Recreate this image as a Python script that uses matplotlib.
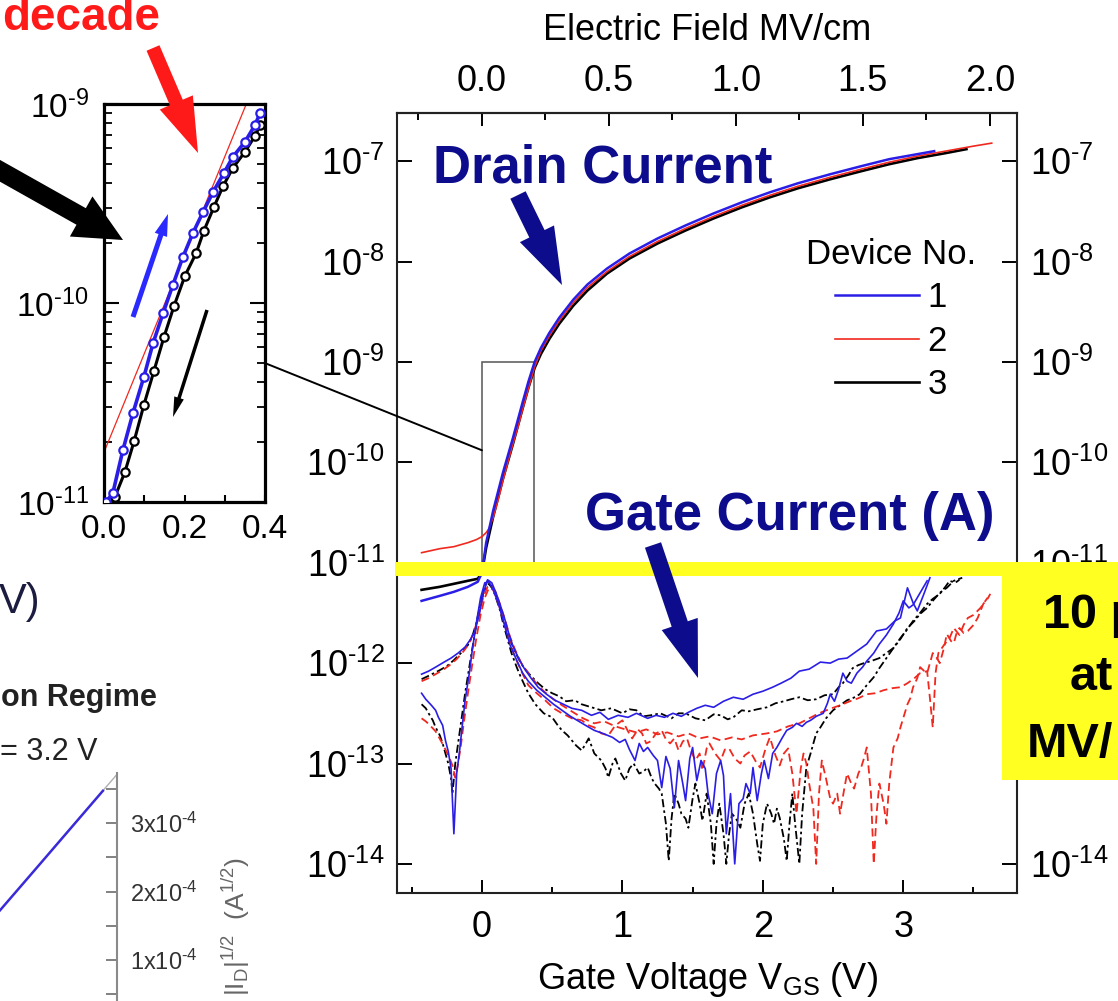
import numpy as np
import matplotlib
matplotlib.use('Agg')
import matplotlib.pyplot as plt
from matplotlib.patches import Rectangle, FancyArrow, ConnectionPatch
from matplotlib.transforms import IdentityTransform
from matplotlib.ticker import (FixedLocator, NullLocator, NullFormatter, LogLocator,
                               FormatStrFormatter, FuncFormatter)

plt.rcParams['font.family'] = ['Liberation Sans', 'DejaVu Sans']
plt.rcParams['mathtext.fontset'] = 'custom'
plt.rcParams['mathtext.rm'] = 'Liberation Sans'
plt.rcParams['mathtext.it'] = 'Liberation Sans:italic'
plt.rcParams['mathtext.bf'] = 'Liberation Sans:bold'
plt.rcParams['axes.unicode_minus'] = False

# ---- data: (V_GS, log10 I) pairs ----
blue_drain = [(-0.43, -11.38), (-0.30, -11.33), (-0.20, -11.29), (-0.10, -11.24), (-0.03, -11.19),
              (0.00, -11.10), (0.03, -10.80), (0.08, -10.48), (0.15, -10.10), (0.22, -9.76),
              (0.29, -9.40), (0.33, -9.20), (0.375, -9.00), (0.42, -8.86), (0.48, -8.71),
              (0.55, -8.56), (0.65, -8.38), (0.75, -8.23), (0.89, -8.07), (1.05, -7.92),
              (1.25, -7.77), (1.45, -7.64), (1.65, -7.52), (1.85, -7.41), (2.05, -7.31),
              (2.25, -7.22), (2.48, -7.13), (2.70, -7.05), (2.90, -6.98), (3.10, -6.93), (3.22, -6.90)]
red_drain = [(-0.43, -10.90), (-0.30, -10.86), (-0.20, -10.84), (-0.10, -10.80), (-0.04, -10.77),
             (0.00, -10.74), (0.03, -10.70), (0.05, -10.66), (0.08, -10.55), (0.12, -10.35),
             (0.15, -10.18), (0.19, -9.97), (0.22, -9.82), (0.26, -9.63), (0.29, -9.47),
             (0.33, -9.27), (0.375, -9.05), (0.42, -8.89), (0.48, -8.74), (0.55, -8.59),
             (0.65, -8.41), (0.75, -8.26), (0.89, -8.10), (1.05, -7.95), (1.25, -7.80),
             (1.45, -7.67), (1.65, -7.55), (1.85, -7.44), (2.05, -7.34), (2.25, -7.25),
             (2.48, -7.16), (2.70, -7.08), (2.90, -7.01), (3.10, -6.95), (3.30, -6.90),
             (3.50, -6.85), (3.63, -6.82)]
black_drain = [(-0.43, -11.27), (-0.30, -11.24), (-0.20, -11.21), (-0.10, -11.18), (-0.03, -11.16),
               (0.00, -11.10), (0.03, -10.85), (0.08, -10.54), (0.15, -10.16), (0.22, -9.82),
               (0.29, -9.46), (0.33, -9.26), (0.375, -9.06), (0.42, -8.92), (0.48, -8.77),
               (0.55, -8.62), (0.65, -8.44), (0.75, -8.29), (0.89, -8.12), (1.05, -7.97),
               (1.25, -7.82), (1.45, -7.69), (1.65, -7.57), (1.85, -7.46), (2.05, -7.36),
               (2.25, -7.27), (2.48, -7.18), (2.70, -7.10), (2.90, -7.03), (3.10, -6.97),
               (3.30, -6.92), (3.45, -6.88)]

blue_gate_hi = [(-0.43, -12.11), (-0.38, -12.08), (-0.33, -12.04), (-0.27, -11.99), (-0.22, -11.95),
                (-0.17, -11.90), (-0.12, -11.84), (-0.08, -11.76), (-0.05, -11.68), (-0.02, -11.52),
                (0.01, -11.30), (0.04, -11.17), (0.07, -11.20), (0.10, -11.30), (0.13, -11.42),
                (0.16, -11.55), (0.19, -11.70), (0.22, -11.83), (0.26, -11.95), (0.30, -12.05),
                (0.35, -12.15), (0.40, -12.24), (0.46, -12.31), (0.52, -12.37), (0.58, -12.41),
                (0.64, -12.45), (0.71, -12.47), (0.78, -12.52), (0.84, -12.49), (0.90, -12.56),
                (0.97, -12.52), (1.04, -12.54), (1.10, -12.50), (1.18, -12.55), (1.24, -12.52),
                (1.30, -12.54), (1.36, -12.50), (1.42, -12.53), (1.47, -12.49), (1.53, -12.45),
                (1.59, -12.42), (1.65, -12.44), (1.72, -12.38), (1.79, -12.34), (1.86, -12.36),
                (1.93, -12.31), (2.00, -12.28), (2.07, -12.24), (2.13, -12.20), (2.20, -12.15),
                (2.26, -12.08), (2.33, -12.06), (2.41, -11.99), (2.48, -12.00), (2.54, -11.96),
                (2.60, -11.95), (2.67, -11.88), (2.74, -11.81), (2.81, -11.68), (2.88, -11.66),
                (2.94, -11.58), (2.98, -11.55), (3.03, -11.25), (3.07, -11.40), (3.10, -11.48),
                (3.15, -11.30), (3.19, -11.15)]
blue_gate_lo = [(-0.43, -12.30), (-0.40, -12.36), (-0.36, -12.42), (-0.33, -12.47), (-0.31, -12.54),
                (-0.28, -12.62), (-0.26, -12.77), (-0.24, -12.88), (-0.22, -13.05), (-0.20, -13.70),
                (-0.18, -13.10), (-0.16, -12.88), (-0.14, -12.62), (-0.12, -12.37), (-0.09, -12.10),
                (-0.07, -11.88), (-0.04, -11.60), (-0.01, -11.35), (0.02, -11.20), (0.05, -11.19),
                (0.08, -11.27), (0.12, -11.42), (0.16, -11.62), (0.20, -11.82), (0.25, -11.98),
                (0.29, -12.10), (0.33, -12.18), (0.39, -12.27), (0.45, -12.34), (0.51, -12.41),
                (0.57, -12.47), (0.63, -12.53), (0.69, -12.58), (0.75, -12.63), (0.80, -12.67),
                (0.86, -12.70), (0.93, -12.74), (0.98, -12.79), (1.02, -12.76), (1.05, -12.86),
                (1.09, -12.97), (1.12, -12.80), (1.15, -12.88), (1.18, -12.84), (1.22, -12.92),
                (1.25, -12.97), (1.28, -13.24), (1.31, -12.93), (1.34, -13.05), (1.37, -13.44),
                (1.40, -12.97), (1.43, -13.20), (1.45, -13.37), (1.48, -12.95), (1.50, -12.84),
                (1.53, -13.17), (1.56, -12.97), (1.59, -13.05), (1.61, -13.30), (1.64, -13.50),
                (1.67, -13.10), (1.70, -12.97), (1.72, -13.12), (1.74, -13.70), (1.77, -13.30),
                (1.80, -14.00), (1.83, -13.40), (1.86, -13.35), (1.88, -13.20), (1.91, -13.30),
                (1.93, -13.04), (1.96, -13.37), (1.99, -13.10), (2.01, -12.97), (2.04, -13.15),
                (2.07, -12.90), (2.10, -12.84), (2.14, -12.74), (2.17, -12.67), (2.21, -12.64),
                (2.24, -12.60), (2.28, -12.63), (2.31, -12.59), (2.34, -12.57), (2.38, -12.53),
                (2.43, -12.50), (2.46, -12.40), (2.48, -12.31), (2.51, -12.38), (2.54, -12.26),
                (2.57, -12.10), (2.60, -12.18), (2.63, -12.20), (2.67, -12.10), (2.71, -12.04),
                (2.74, -11.98), (2.79, -11.90), (2.83, -11.81), (2.88, -11.72), (2.93, -11.61),
                (2.97, -11.50), (3.00, -11.38), (3.04, -11.45), (3.07, -11.42), (3.12, -11.30),
                (3.17, -11.18)]
red_gate_hi = [(-0.43, -12.18), (-0.38, -12.15), (-0.33, -12.11), (-0.28, -12.07), (-0.23, -12.02),
               (-0.18, -11.96), (-0.13, -11.88), (-0.09, -11.80), (-0.05, -11.66), (-0.02, -11.50),
               (0.01, -11.34), (0.04, -11.24), (0.07, -11.23), (0.10, -11.30), (0.13, -11.42),
               (0.16, -11.55), (0.20, -11.74), (0.24, -11.88), (0.28, -12.00), (0.33, -12.10),
               (0.38, -12.19), (0.44, -12.28), (0.50, -12.35), (0.57, -12.42), (0.65, -12.49),
               (0.72, -12.55), (0.80, -12.60), (0.87, -12.58), (0.95, -12.63), (1.02, -12.66),
               (1.10, -12.69), (1.17, -12.66), (1.25, -12.71), (1.32, -12.69), (1.40, -12.73),
               (1.47, -12.70), (1.55, -12.75), (1.62, -12.73), (1.70, -12.77), (1.78, -12.74),
               (1.85, -12.76), (1.93, -12.72), (2.03, -12.70), (2.10, -12.68), (2.18, -12.63),
               (2.26, -12.60), (2.33, -12.55), (2.40, -12.50), (2.47, -12.46), (2.55, -12.42),
               (2.62, -12.38), (2.68, -12.35), (2.74, -12.31), (2.80, -12.30), (2.86, -12.27),
               (2.92, -12.25), (2.98, -12.24), (3.03, -12.20), (3.08, -12.15), (3.12, -12.10),
               (3.17, -12.08), (3.19, -12.35), (3.21, -12.64), (3.23, -12.10), (3.25, -11.90),
               (3.29, -11.82), (3.33, -11.75), (3.36, -11.65), (3.40, -11.72), (3.43, -11.62),
               (3.46, -11.55), (3.50, -11.52), (3.55, -11.45), (3.60, -11.35)]
red_gate_lo = [(-0.43, -12.55), (-0.40, -12.58), (-0.37, -12.62), (-0.33, -12.68), (-0.29, -12.78),
               (-0.26, -12.86), (-0.23, -12.95), (-0.21, -13.02), (-0.19, -13.14), (-0.17, -13.00),
               (-0.15, -12.82), (-0.13, -12.60), (-0.10, -12.30), (-0.07, -12.02), (-0.04, -11.75),
               (-0.01, -11.52), (0.02, -11.35), (0.05, -11.25), (0.08, -11.27), (0.11, -11.38),
               (0.15, -11.55), (0.19, -11.75), (0.23, -11.92), (0.28, -12.08), (0.33, -12.22),
               (0.39, -12.30), (0.45, -12.37), (0.51, -12.45), (0.57, -12.50), (0.64, -12.55),
               (0.71, -12.57), (0.76, -12.62), (0.80, -12.64), (0.85, -12.70), (0.90, -12.72),
               (0.95, -12.62), (1.00, -12.57), (1.04, -12.68), (1.07, -12.75), (1.11, -12.66),
               (1.14, -12.70), (1.17, -12.80), (1.20, -12.78), (1.24, -12.70), (1.28, -12.67),
               (1.31, -12.76), (1.34, -12.80), (1.37, -12.75), (1.40, -12.87), (1.43, -12.78),
               (1.46, -12.75), (1.49, -12.88), (1.52, -12.97), (1.55, -12.90), (1.57, -13.07),
               (1.60, -12.85), (1.62, -12.80), (1.66, -12.90), (1.70, -12.97), (1.73, -12.86),
               (1.76, -12.85), (1.80, -12.95), (1.84, -13.00), (1.87, -12.92), (1.91, -12.88),
               (1.95, -12.98), (1.98, -13.04), (2.02, -12.85), (2.05, -12.74), (2.09, -12.92),
               (2.12, -13.02), (2.15, -12.90), (2.18, -12.85), (2.21, -13.10), (2.24, -13.50),
               (2.27, -13.05), (2.29, -12.90), (2.31, -13.00), (2.33, -13.20), (2.36, -13.45),
               (2.38, -14.00), (2.40, -13.30), (2.42, -12.97), (2.45, -13.15), (2.48, -13.35),
               (2.50, -13.40), (2.53, -13.30), (2.55, -13.50), (2.58, -13.25), (2.60, -13.10),
               (2.63, -13.20), (2.65, -13.25), (2.68, -13.10), (2.70, -13.04), (2.72, -12.95),
               (2.74, -12.84), (2.77, -13.30), (2.79, -14.00), (2.81, -13.50), (2.83, -13.20),
               (2.86, -13.40), (2.88, -13.60), (2.90, -13.20), (2.93, -12.84), (2.96, -12.75),
               (2.98, -12.64), (3.01, -12.50), (3.03, -12.41), (3.05, -12.35), (3.07, -12.24),
               (3.10, -12.15), (3.12, -12.04), (3.15, -12.08), (3.17, -12.10), (3.19, -12.00),
               (3.21, -11.90), (3.24, -11.95), (3.26, -12.00), (3.29, -11.85), (3.31, -11.71),
               (3.34, -11.78), (3.36, -11.80), (3.38, -11.70), (3.40, -11.65), (3.43, -11.70),
               (3.46, -11.68), (3.50, -11.62), (3.53, -11.55), (3.57, -11.41), (3.60, -11.36),
               (3.62, -11.31)]
black_gate_hi = [(-0.43, -12.16), (-0.37, -12.12), (-0.30, -12.07), (-0.25, -12.03), (-0.20, -11.97),
                 (-0.15, -11.90), (-0.10, -11.82), (-0.07, -11.74), (-0.04, -11.60), (-0.02, -11.47),
                 (0.00, -11.35), (0.02, -11.24), (0.04, -11.18), (0.06, -11.20), (0.08, -11.25),
                 (0.11, -11.36), (0.13, -11.45), (0.16, -11.58), (0.18, -11.70), (0.21, -11.80),
                 (0.24, -11.90), (0.27, -11.98), (0.30, -12.05), (0.35, -12.13), (0.40, -12.20),
                 (0.45, -12.26), (0.50, -12.30), (0.55, -12.33), (0.60, -12.38), (0.66, -12.37),
                 (0.71, -12.41), (0.78, -12.44), (0.85, -12.47), (0.92, -12.45), (1.00, -12.50),
                 (1.05, -12.46), (1.10, -12.47), (1.15, -12.53), (1.20, -12.52), (1.27, -12.50),
                 (1.35, -12.55), (1.40, -12.50), (1.45, -12.50), (1.52, -12.55), (1.59, -12.57),
                 (1.65, -12.51), (1.70, -12.52), (1.75, -12.56), (1.79, -12.54), (1.85, -12.47),
                 (1.90, -12.48), (1.96, -12.46), (2.03, -12.44), (2.09, -12.40), (2.15, -12.38),
                 (2.20, -12.36), (2.26, -12.34), (2.32, -12.37), (2.38, -12.36), (2.44, -12.32),
                 (2.50, -12.31), (2.54, -12.24), (2.57, -12.20), (2.61, -12.12), (2.64, -12.05),
                 (2.68, -12.02), (2.72, -12.00), (2.77, -11.98), (2.83, -11.95), (2.88, -11.90),
                 (2.93, -11.85), (2.98, -11.76), (3.03, -11.65), (3.08, -11.58), (3.12, -11.51),
                 (3.17, -11.45), (3.21, -11.38), (3.26, -11.30), (3.31, -11.25), (3.36, -11.18),
                 (3.42, -11.15)]
black_gate_lo = [(-0.43, -12.41), (-0.40, -12.45), (-0.38, -12.50), (-0.35, -12.57), (-0.33, -12.64),
                 (-0.30, -12.72), (-0.28, -12.80), (-0.26, -12.90), (-0.24, -13.00), (-0.22, -13.15),
                 (-0.21, -13.30), (-0.19, -13.00), (-0.16, -12.70), (-0.12, -12.30), (-0.08, -11.95),
                 (-0.05, -11.70), (-0.03, -11.55), (0.01, -11.30), (0.05, -11.21), (0.08, -11.27),
                 (0.10, -11.35), (0.13, -11.48), (0.15, -11.60), (0.18, -11.75), (0.21, -11.90),
                 (0.25, -12.05), (0.28, -12.15), (0.33, -12.30), (0.38, -12.41), (0.44, -12.50),
                 (0.50, -12.54), (0.54, -12.62), (0.57, -12.67), (0.61, -12.72), (0.64, -12.77),
                 (0.67, -12.82), (0.71, -12.87), (0.74, -12.80), (0.76, -12.75), (0.80, -12.90),
                 (0.85, -12.97), (0.88, -13.05), (0.90, -13.14), (0.93, -13.00), (0.95, -12.95),
                 (0.99, -13.10), (1.02, -13.17), (1.05, -13.05), (1.08, -13.00), (1.12, -13.10),
                 (1.15, -13.08), (1.18, -13.04), (1.21, -13.15), (1.23, -13.20), (1.26, -13.25),
                 (1.28, -13.30), (1.31, -13.60), (1.33, -13.97), (1.35, -13.55), (1.37, -13.30),
                 (1.40, -13.40), (1.42, -13.50), (1.45, -13.55), (1.47, -13.64), (1.50, -13.35),
                 (1.52, -13.20), (1.55, -13.40), (1.57, -13.57), (1.60, -13.30), (1.63, -13.60),
                 (1.65, -14.00), (1.67, -13.60), (1.69, -13.40), (1.72, -13.70), (1.74, -14.00),
                 (1.76, -13.70), (1.78, -13.50), (1.81, -13.55), (1.84, -13.64), (1.87, -13.40),
                 (1.90, -13.30), (1.93, -13.50), (1.96, -13.80), (1.98, -13.97), (2.00, -13.60),
                 (2.03, -13.40), (2.06, -13.50), (2.08, -13.60), (2.10, -13.45), (2.12, -13.54),
                 (2.15, -13.75), (2.17, -13.97), (2.19, -13.60), (2.21, -13.30), (2.23, -13.60),
                 (2.26, -14.00), (2.28, -13.50), (2.31, -13.04), (2.34, -12.90), (2.36, -12.80),
                 (2.38, -12.70), (2.41, -12.64), (2.45, -12.55), (2.50, -12.47), (2.55, -12.42),
                 (2.60, -12.37), (2.64, -12.35), (2.69, -12.31), (2.74, -12.22), (2.79, -12.14),
                 (2.83, -12.05), (2.88, -11.95), (2.93, -11.85), (2.98, -11.75), (3.02, -11.68),
                 (3.07, -11.58), (3.12, -11.50), (3.17, -11.41), (3.21, -11.36), (3.26, -11.31),
                 (3.30, -11.24), (3.33, -11.18), (3.37, -11.20), (3.40, -11.17)]

# zoomed subthreshold sweep (up / down) and slope fit
inset_up = [(0.005, -11.00), (0.022, -10.955), (0.047, -10.739), (0.072, -10.553), (0.099, -10.372),
            (0.122, -10.201), (0.147, -10.050), (0.171, -9.910), (0.196, -9.769), (0.221, -9.648),
            (0.246, -9.543), (0.271, -9.442), (0.298, -9.347), (0.320, -9.266), (0.350, -9.191),
            (0.375, -9.106), (0.388, -9.045)]
inset_down = [(0.010, -11.02), (0.027, -10.975), (0.052, -10.849), (0.075, -10.693), (0.099, -10.513),
              (0.124, -10.342), (0.149, -10.171), (0.174, -10.015), (0.201, -9.864), (0.229, -9.749),
              (0.248, -9.638), (0.273, -9.518), (0.296, -9.412), (0.320, -9.322), (0.350, -9.241),
              (0.375, -9.161), (0.388, -9.106)]
inset_fit = [(0.0, -10.75), (0.40, -8.77)]

# saturation-regime sqrt(I_D) panel
sat_vgs = [2.4, 2.8, 3.21]
sat_sqrt_id = [1.32e-4, 2.38e-4, 3.47e-4]
sat_fit_vgs = [2.9, 3.3]
sat_fit_sqrt_id = [2.65e-4, 3.71e-4]
sat_ticks = [1e-4, 2e-4, 3e-4]
sat_tick_labels = ['1x10$^{\\text{-}4}$', '2x10$^{\\text{-}4}$', '3x10$^{\\text{-}4}$']

device_labels = ['1', '2', '3']
field_ticks = [0.0, 0.5, 1.0, 1.5, 2.0]
field_per_volt = 0.553   # MV/cm per volt of gate bias

W, H = 1118, 1001
blue = '#2a1ee6'
red = '#f0281e'
navy = '#0c0c8c'
yellow = '#ffff22'


def fx(px):
    return px / W


def fy(py):
    return 1 - py / H


def box(left, top, right, bottom):
    return [fx(left), fy(bottom), (right - left) / W, (bottom - top) / H]


def curve(pairs):
    arr = np.array(pairs, dtype=float)
    return arr[:, 0], 10.0 ** arr[:, 1]


def decade_label(y, pos):
    n = int(round(np.log10(y)))
    return '10$^{\\text{-}%d}$' % (-n)


fig = plt.figure(figsize=(W / 100, H / 100), dpi=100)

# ---------------- main panel ----------------
ax = fig.add_axes(box(397, 113, 1017, 893))
ax.set_yscale('log')
ax.set_xlim(-0.605, 3.81)
ax.set_ylim(10 ** -14.29, 10 ** -6.52)

for pairs in [black_gate_lo, black_gate_hi]:
    v, i = curve(pairs)
    ax.plot(v, i, color='black', lw=1.3, dashes=(4.5, 1.8, 1.4, 1.8), zorder=2)
for pairs in [red_gate_lo, red_gate_hi]:
    v, i = curve(pairs)
    ax.plot(v, i, color=red, lw=1.3, dashes=(4.5, 2.5), zorder=2.2)
for pairs in [blue_gate_lo, blue_gate_hi]:
    v, i = curve(pairs)
    ax.plot(v, i, color=blue, lw=1.2, zorder=2.4)

v, i = curve(black_drain)
l3, = ax.plot(v, i, color='black', lw=1.9, zorder=3)
v, i = curve(red_drain)
l2, = ax.plot(v, i, color=red, lw=1.2, zorder=3.1)
v, i = curve(blue_drain)
l1, = ax.plot(v, i, color=blue, lw=1.8, zorder=3.2)

ax.add_patch(Rectangle((0.0, 1e-11), 0.37, 1e-9 - 1e-11, fill=False, ec='#555555', lw=1.1, zorder=1.5))

ax.yaxis.set_major_locator(FixedLocator(10.0 ** np.arange(-14, -6)))
ax.yaxis.set_minor_locator(NullLocator())
ax.yaxis.set_major_formatter(FuncFormatter(decade_label))
ax.xaxis.set_major_locator(FixedLocator([0, 1, 2, 3]))
ax.xaxis.set_minor_locator(FixedLocator([-0.5, 0.5, 1.5, 2.5, 3.5]))
ax.tick_params(axis='y', which='major', direction='in', left=True, right=True, labelright=True,
               length=11, width=1.4, pad=9, labelsize=26)
ax.tick_params(axis='x', which='major', direction='in', top=False, length=9.5, width=1.4, pad=12, labelsize=26)
ax.tick_params(axis='x', which='minor', direction='in', top=False, length=4.5, width=1.4)
for s in ax.spines.values():
    s.set_linewidth(1.5)
    s.set_color('#222222')
ax.set_xlabel('Gate Voltage V$_{\\mathrm{GS}}$ (V)', fontsize=26, labelpad=11)

sec = ax.secondary_xaxis('top', functions=(lambda x: x * field_per_volt, lambda e: e / field_per_volt))
sec.xaxis.set_major_locator(FixedLocator(field_ticks))
sec.xaxis.set_minor_locator(FixedLocator([-0.25, 0.25, 0.75, 1.25, 1.75]))
sec.xaxis.set_major_formatter(FormatStrFormatter('%.1f'))
sec.tick_params(which='major', direction='in', length=9.5, width=1.4, pad=10, labelsize=26)
sec.tick_params(which='minor', direction='in', length=5, width=1.4)
sec.spines['top'].set_linewidth(1.5)
sec.set_xlabel('Electric Field MV/cm', fontsize=26, labelpad=17)

leg = ax.legend(handles=[l1, l2, l3], labels=device_labels, title='Device No.', loc='upper right',
                bbox_to_anchor=(fx(976), fy(238)), bbox_transform=fig.transFigure, frameon=False,
                fontsize=25, title_fontsize=25, handlelength=2.4, handletextpad=0.25,
                labelspacing=0.3, borderpad=0, borderaxespad=0)

# ---------------- subthreshold zoom ----------------
axi = fig.add_axes(box(104, 104, 265, 502))
axi.set_yscale('log')
axi.set_xlim(0, 0.4)
axi.set_ylim(1e-11, 1e-9)
v, i = curve(inset_fit)
axi.plot(v, i, color=red, lw=0.9, zorder=2)
v, i = curve(inset_down)
axi.plot(v, i, color='black', lw=2.2, marker='o', ms=6, mfc='white', mec='black', mew=1.6, zorder=3)
v, i = curve(inset_up)
axi.plot(v, i, color=blue, lw=2.6, marker='o', ms=6, mfc='white', mec=blue, mew=1.6, zorder=4)
axi.xaxis.set_major_locator(FixedLocator([0.0, 0.2, 0.4]))
axi.xaxis.set_minor_locator(FixedLocator([0.1, 0.3]))
axi.xaxis.set_major_formatter(FormatStrFormatter('%.1f'))
axi.yaxis.set_major_locator(FixedLocator([1e-11, 1e-10, 1e-9]))
axi.yaxis.set_major_formatter(FuncFormatter(decade_label))
axi.yaxis.set_minor_locator(LogLocator(base=10, subs=np.arange(2, 10)))
axi.yaxis.set_minor_formatter(NullFormatter())
axi.tick_params(axis='x', which='both', direction='in', top=False, length=5, width=1.5, pad=9, labelsize=24)
axi.tick_params(axis='y', which='major', direction='in', left=True, right=True, length=11, width=1.5,
                pad=11, labelsize=24)
axi.tick_params(axis='y', which='minor', direction='in', left=True, right=True, length=6, width=1.3)
for s in axi.spines.values():
    s.set_linewidth(2.3)

con = ConnectionPatch(xyA=(1.0, 0.349), coordsA=axi.transAxes, xyB=(0.0, 10 ** -9.88),
                      coordsB=ax.transData, color='black', lw=1.4, zorder=6)
fig.add_artist(con)

# ---------------- saturation panel (cut at the figure edge) ----------------
axs = fig.add_axes(box(-400, 773, 117, 1080))
axs.patch.set_alpha(0)
axs.set_xlim(0, 3.3)
axs.set_ylim(-0.75e-4, 3.73e-4)
axs.plot(sat_fit_vgs, sat_fit_sqrt_id, color='#b0b0b0', lw=1.0, zorder=2)
axs.plot(sat_vgs, sat_sqrt_id, color='#3a2bd8', lw=1.8, zorder=3)
for side in ['left', 'top', 'bottom']:
    axs.spines[side].set_visible(False)
axs.spines['right'].set_color('#8a8a8a')
axs.spines['right'].set_linewidth(1.5)
axs.set_xticks([])
axs.yaxis.tick_right()
axs.set_yticks(sat_ticks, labels=sat_tick_labels)
axs.yaxis.set_minor_locator(FixedLocator([0.5e-4, 1.5e-4, 2.5e-4, 3.5e-4]))
axs.tick_params(axis='y', which='both', direction='in', length=8, width=1.3, color='#777777',
                pad=9, labelsize=17, labelcolor='#333333')
axs.yaxis.set_label_position('right')
axs.set_ylabel('|I$_{\\mathrm{D}}$|$^{1/2}$  (A$^{1/2}$)', fontsize=19, color='#666666', labelpad=16)

# ---------------- annotations ----------------
def block_arrow(p_from, p_to, color, shaft, head_w, head_l, z=25):
    x0, y0 = p_from[0], H - p_from[1]
    x1, y1 = p_to[0], H - p_to[1]
    fig.add_artist(FancyArrow(x0, y0, x1 - x0, y1 - y0, width=shaft, head_width=head_w,
                              head_length=head_l, length_includes_head=True, color=color, lw=0,
                              transform=IdentityTransform(), zorder=z))


fig.text(fx(160), fy(30), 'decade', color='#ff1a1a', fontsize=33, fontweight='bold',
         ha='right', va='baseline')
block_arrow((153, 48), (198, 153), '#ff1a1a', 14, 36, 55)
block_arrow((-5, 168), (123, 240), 'black', 19, 46, 48)
block_arrow((133, 317), (168, 214), '#2a2aff', 5, 13, 22)
block_arrow((207, 310), (173, 417), 'black', 3.5, 10, 20)

fig.text(fx(433), fy(182), 'Drain Current', color=navy, fontsize=38, fontweight='bold',
         ha='left', va='baseline')
block_arrow((518, 195), (562, 285), navy, 17, 38, 57)
fig.text(fx(585), fy(530), 'Gate Current (A)', color=navy, fontsize=38, fontweight='bold',
         ha='left', va='baseline')

fig.text(fx(40), fy(602), 'V)', color='#1c1c40', fontsize=30, ha='right', va='center')
fig.text(fx(157), fy(698), 'on Regime', color='#222222', fontsize=22, fontweight='bold',
         ha='right', va='center')
fig.text(fx(98), fy(752), '= 3.2 V', color='#222222', fontsize=22, ha='right', va='center')

# highlight band and callout box
fig.add_artist(Rectangle((fx(395), fy(576)), (1118 - 395) / W, 14 / H, transform=fig.transFigure,
                         color=yellow, lw=0, zorder=20))
fig.add_artist(Rectangle((fx(1002), fy(780)), (1118 - 1002) / W, (780 - 562) / H,
                         transform=fig.transFigure, color=yellow, lw=0, zorder=20))
fig.text(fx(1043), fy(628), '10 p', fontsize=35, fontweight='bold', ha='left', va='baseline', zorder=21)
fig.text(fx(1070), fy(690), 'at', fontsize=35, fontweight='bold', ha='left', va='baseline', zorder=21)
fig.text(fx(1027), fy(757), 'MV/', fontsize=35, fontweight='bold', ha='left', va='baseline', zorder=21)

block_arrow((653, 545), (698, 678), navy, 17, 38, 57, z=26)

# right-hand labels that sit under the callout box are not shown
fig.canvas.draw()
for loc, tick in zip(ax.yaxis.get_majorticklocs(), ax.yaxis.get_major_ticks()):
    if int(round(np.log10(loc))) in (-12, -13):
        tick.label2.set_visible(False)

fig.savefig('out.png', dpi=100)
